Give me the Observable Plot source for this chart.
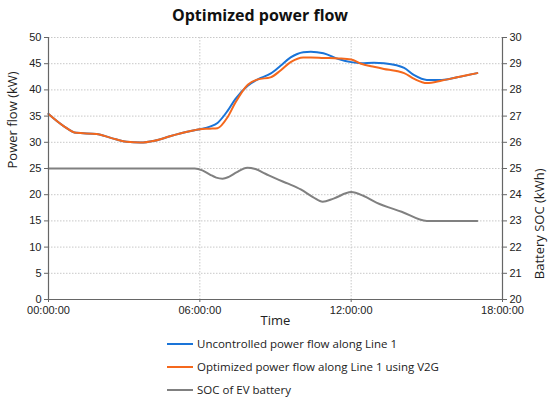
<!DOCTYPE html>
<html>
<head>
<meta charset="utf-8">
<script src="https://cdn.jsdelivr.net/npm/d3@7"></script>
<script src="https://cdn.jsdelivr.net/npm/@observablehq/plot@0.6"></script>
<style>
  body { margin: 0; background: #fff; width: 550px; height: 404px; overflow: hidden; }
  #title { height: 28px; line-height: 30px; font-family: "Open Sans", sans-serif; font-weight: bold; font-size: 16px; text-align: center; padding-right: 30px; color: #111; }
  #legend { margin-top: -2px; padding-left: 167px; font-family: "Open Sans", sans-serif; font-size: 11.5px; color: #222; }
  .item { height: 23px; line-height: 23px; display: flex; align-items: center; }
  .sw { width: 26px; height: 2px; margin-right: 4px; }
</style>
</head>
<body>
<div id="title">Optimized power flow</div>
<div id="chart"></div>
<div id="legend"></div>
<script>
const seriesNames = ["Uncontrolled power flow along Line 1", "Optimized power flow along Line 1 using V2G", "SOC of EV battery"];
const seriesColors = ["#1a74d8", "#f5681c", "#808080"];

const powerHours = [0, 0.6, 1.1, 1.9, 2.5, 3.1, 3.65, 4.2, 4.85, 5.5, 6.0, 6.4, 6.7, 7.1, 7.4, 7.9, 8.3, 8.8, 9.2, 9.6, 10.1, 10.4, 10.9, 11.5, 12.0, 12.4, 12.9, 13.3, 13.8, 14.1, 14.5, 15.0, 15.6, 16.2, 17.0];
const uncontrolled = [35.4, 33.1, 31.8, 31.6, 30.8, 30.1, 29.95, 30.3, 31.2, 32.0, 32.5, 33.0, 33.7, 36.0, 38.2, 40.8, 42.0, 43.1, 44.6, 46.2, 47.2, 47.3, 47.0, 45.9, 45.3, 45.1, 45.2, 45.1, 44.7, 44.2, 42.8, 41.9, 41.9, 42.4, 43.2];
const optimized =    [35.4, 33.1, 31.8, 31.6, 30.8, 30.1, 29.95, 30.3, 31.2, 32.0, 32.5, 32.6, 32.7, 34.8, 37.5, 41.0, 42.0, 42.4, 43.7, 45.3, 46.2, 46.2, 46.1, 46.0, 45.8, 45.0, 44.4, 44.0, 43.6, 43.2, 42.1, 41.3, 41.8, 42.4, 43.2];

const socHours = [0, 1, 2, 3, 4, 5, 5.8, 6.1, 6.4, 6.65, 6.9, 7.15, 7.45, 7.88, 8.2, 8.6, 9.0, 9.5, 10.0, 10.5, 10.87, 11.3, 12.0, 12.5, 13.0, 14.0, 15.0, 16.0, 17.0];
const socValues = [25, 25, 25, 25, 25, 25, 25.0, 24.93, 24.77, 24.65, 24.61, 24.68, 24.85, 25.03, 24.98, 24.8, 24.62, 24.42, 24.2, 23.9, 23.73, 23.85, 24.1, 23.95, 23.7, 23.35, 23.0, 23.0, 23.0];

const powerTicks = [0, 5, 10, 15, 20, 25, 30, 35, 40, 45, 50];
const timeTicks = [0, 6, 12, 18];
const timeLabels = ["00:00:00", "06:00:00", "12:00:00", "18:00:00"];
const socMin = 20, socMax = 30, powerMax = 50;
const k = powerMax / (socMax - socMin);

const blueData = powerHours.map((h, i) => ({h, v: uncontrolled[i]}));
const orangeData = powerHours.map((h, i) => ({h, v: optimized[i]}));
const socData = socHours.map((h, i) => ({h, v: (socValues[i] - socMin) * k}));

const axisColor = "#666";
const tickFont = "'Liberation Sans', Arial, sans-serif";
const labelFont = "'Open Sans', sans-serif";

const chart = Plot.plot({
  width: 550,
  height: 306,
  marginTop: 9,
  marginBottom: 35,
  marginLeft: 48,
  marginRight: 48,
  style: {fontFamily: tickFont, fontSize: "11px", color: "#222", background: "#fff"},
  x: {domain: [0, 18]},
  y: {domain: [0, powerMax]},
  marks: [
    Plot.gridY(powerTicks.slice(1), {stroke: "#c8c8c8", strokeOpacity: 1, strokeDasharray: "1.5,1.5"}),
    Plot.gridX(timeTicks.slice(1, 3), {stroke: "#c8c8c8", strokeOpacity: 1, strokeDasharray: "1.5,1.5"}),
    Plot.line(socData, {x: "h", y: "v", stroke: seriesColors[2], strokeWidth: 2, curve: "monotone-x"}),
    Plot.line(blueData, {x: "h", y: "v", stroke: seriesColors[0], strokeWidth: 2, curve: "monotone-x"}),
    Plot.line(orangeData, {x: "h", y: "v", stroke: seriesColors[1], strokeWidth: 2, curve: "monotone-x"}),
    Plot.ruleX([0, 18], {stroke: axisColor, strokeWidth: 1.2}),
    Plot.ruleY([0], {stroke: axisColor, strokeWidth: 1.2}),
    Plot.axisY(powerTicks, {anchor: "left", tickSize: 4, tickPadding: 3, stroke: axisColor, label: null, fill: "#222"}),
    Plot.axisY(powerTicks, {anchor: "right", tickSize: 4, tickPadding: 3, stroke: axisColor, label: null, fill: "#222", tickFormat: d => String(d / k + socMin)}),
    Plot.axisX(timeTicks, {anchor: "bottom", tickSize: 3, tickPadding: 4, stroke: axisColor, label: null, fill: "#222", tickFormat: d => timeLabels[timeTicks.indexOf(d)]}),
    Plot.text(["Power flow (kW)"], {frameAnchor: "left", rotate: -90, dx: -36, fontSize: 13, fontFamily: labelFont, fill: "#222"}),
    Plot.text(["Battery SOC (kWh)"], {frameAnchor: "right", rotate: -90, dx: 37, fontSize: 13, fontFamily: labelFont, fill: "#222"}),
    Plot.text(["Time"], {frameAnchor: "bottom", dy: 25, fontSize: 13, fontFamily: labelFont, fill: "#222"})
  ]
});
document.getElementById("chart").appendChild(chart);

const legend = document.getElementById("legend");
seriesNames.forEach((name, i) => {
  const row = document.createElement("div");
  row.className = "item";
  const sw = document.createElement("span");
  sw.className = "sw";
  sw.style.background = seriesColors[i];
  const t = document.createElement("span");
  t.textContent = name;
  row.appendChild(sw);
  row.appendChild(t);
  legend.appendChild(row);
});
</script>
</body>
</html>
